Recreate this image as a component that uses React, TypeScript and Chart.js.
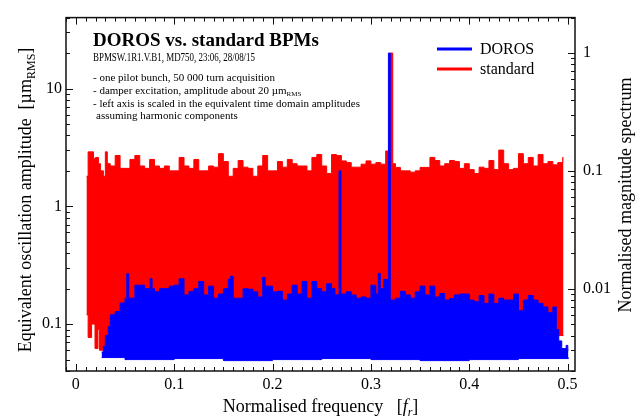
import React, { useEffect, useRef } from 'react';
import { Chart, registerables } from 'chart.js';

Chart.register(...registerables);

const SERIF = '"Liberation Serif", "Times New Roman", serif';
const BLUE = '#0000ff';
const RED = '#ff0000';

const xTickValues = [0, 0.1, 0.2, 0.3, 0.4, 0.5];
const leftTickValues = [0.1, 1, 10];
const rightTickValues = [0.01, 0.1, 1];

// [normalised frequency, amplitude in µm_RMS] — envelope of the DOROS spectrum (top)
const dorosUpper: [number, number][] = [
  [0.0262, 0.058], [0.028, 0.065], [0.03, 0.08], [0.033, 0.095], [0.035, 0.12], [0.04, 0.128],
  [0.045, 0.151], [0.05, 0.166], [0.0518, 0.268], [0.0538, 0.166], [0.06, 0.214], [0.065, 0.214],
  [0.07, 0.2], [0.0755, 0.243], [0.0775, 0.2], [0.08, 0.188], [0.085, 0.2], [0.09, 0.2],
  [0.095, 0.21], [0.1, 0.214], [0.105, 0.243], [0.11, 0.177], [0.115, 0.19], [0.12, 0.2],
  [0.125, 0.23], [0.13, 0.177], [0.135, 0.21], [0.14, 0.166], [0.145, 0.18], [0.15, 0.2],
  [0.155, 0.24], [0.1575, 0.255], [0.16, 0.166], [0.165, 0.166], [0.17, 0.2], [0.175, 0.198],
  [0.18, 0.188], [0.185, 0.17], [0.19, 0.25], [0.1925, 0.21], [0.195, 0.21], [0.2, 0.188],
  [0.205, 0.19], [0.21, 0.16], [0.215, 0.18], [0.22, 0.214], [0.225, 0.18], [0.23, 0.23],
  [0.235, 0.166], [0.24, 0.23], [0.245, 0.2], [0.25, 0.188], [0.255, 0.22], [0.26, 0.2],
  [0.2635, 0.177], [0.2676, 2.0], [0.2696, 0.18], [0.275, 0.188], [0.28, 0.177], [0.285, 0.166],
  [0.29, 0.17], [0.295, 0.166], [0.3, 0.214], [0.305, 0.18], [0.3075, 0.27], [0.3095, 0.2],
  [0.313, 0.24], [0.3178, 20], [0.3197, 0.16], [0.325, 0.166], [0.33, 0.19], [0.335, 0.177],
  [0.34, 0.166], [0.345, 0.188], [0.35, 0.21], [0.355, 0.177], [0.36, 0.21], [0.365, 0.17],
  [0.37, 0.182], [0.375, 0.16], [0.38, 0.165], [0.385, 0.177], [0.39, 0.18], [0.395, 0.18],
  [0.4, 0.16], [0.405, 0.155], [0.41, 0.175], [0.415, 0.15], [0.42, 0.18], [0.425, 0.15],
  [0.43, 0.166], [0.435, 0.16], [0.44, 0.16], [0.445, 0.18], [0.45, 0.13], [0.455, 0.16],
  [0.46, 0.175], [0.465, 0.16], [0.47, 0.15], [0.475, 0.14], [0.48, 0.125], [0.485, 0.14],
  [0.4885, 0.09], [0.491, 0.072], [0.494, 0.062], [0.4985, 0.066], [0.5002, 0.06], [0.5008, 0.06],
];

// noise floor of the DOROS spectrum (bottom of the band)
const dorosLower: [number, number][] = [
  [0.0262, 0.052], [0.05, 0.05], [0.1, 0.051], [0.15, 0.049], [0.2, 0.05], [0.25, 0.051],
  [0.3, 0.05], [0.35, 0.049], [0.4, 0.05], [0.45, 0.051], [0.5008, 0.052],
];

// envelope of the standard BPM spectrum (top)
const standardUpper: [number, number][] = [
  [0.0108, 1.8], [0.0125, 2.9], [0.015, 2.9], [0.018, 2.55], [0.02, 2.6], [0.023, 2.3],
  [0.025, 2.0], [0.028, 1.8], [0.03, 2.9], [0.032, 2.3], [0.035, 2.2], [0.04, 2.7],
  [0.045, 2.1], [0.05, 2.1], [0.055, 2.5], [0.06, 2.7], [0.065, 2.2], [0.07, 2.1],
  [0.075, 2.5], [0.08, 2.2], [0.085, 2.1], [0.09, 2.2], [0.095, 2.0], [0.1, 2.0],
  [0.105, 2.6], [0.11, 2.2], [0.115, 2.1], [0.12, 2.5], [0.125, 2.0], [0.13, 2.0],
  [0.135, 2.2], [0.14, 2.15], [0.145, 2.8], [0.15, 2.4], [0.155, 1.8], [0.16, 2.1],
  [0.165, 2.45], [0.17, 2.15], [0.175, 2.1], [0.18, 1.8], [0.185, 2.2], [0.19, 2.7],
  [0.195, 2.0], [0.2, 2.0], [0.205, 2.4], [0.21, 2.15], [0.215, 2.5], [0.22, 2.3],
  [0.225, 2.2], [0.23, 2.2], [0.235, 2.0], [0.24, 2.6], [0.245, 2.75], [0.25, 2.2],
  [0.255, 1.9], [0.26, 2.75], [0.265, 2.7], [0.27, 2.43], [0.275, 2.35], [0.28, 2.15],
  [0.285, 2.15], [0.29, 2.28], [0.295, 2.43], [0.3, 2.28], [0.305, 2.35], [0.31, 2.28],
  [0.315, 2.95], [0.3197, 20], [0.3222, 2.3], [0.325, 2.14], [0.33, 2.0], [0.335, 2.0],
  [0.34, 1.95], [0.345, 2.0], [0.35, 2.14], [0.355, 2.14], [0.36, 2.6], [0.365, 2.45],
  [0.37, 2.2], [0.375, 2.3], [0.38, 2.45], [0.385, 2.4], [0.39, 2.1], [0.395, 2.3],
  [0.4, 2.05], [0.405, 1.9], [0.41, 2.15], [0.415, 2.1], [0.42, 2.45], [0.425, 2.05],
  [0.43, 3.0], [0.435, 2.3], [0.44, 2.05], [0.445, 2.1], [0.45, 2.8], [0.455, 2.3],
  [0.46, 2.6], [0.465, 2.2], [0.47, 2.75], [0.475, 2.3], [0.48, 2.4], [0.485, 2.25],
  [0.49, 2.35], [0.495, 2.6], [0.4958, 2.6],
];

// bottom of the standard BPM band
const standardLower: [number, number][] = [
  [0.0108, 0.12], [0.0125, 0.077], [0.016, 0.1], [0.0195, 0.062], [0.0225, 0.09], [0.024, 0.06],
  [0.028, 0.065], [0.033, 0.075], [0.036, 0.1], [0.04, 0.11], [0.47, 0.11], [0.48, 0.12],
  [0.485, 0.1], [0.489, 0.08], [0.4958, 0.08],
];

type Part = { t: string; size: number; dy?: number; bold?: boolean; italic?: boolean };

const fontOf = (p: Part) =>
  `${p.italic ? 'italic ' : ''}${p.bold ? 'bold ' : ''}${p.size}px ${SERIF}`;

function richWidth(ctx: CanvasRenderingContext2D, parts: Part[]) {
  let w = 0;
  for (const p of parts) {
    ctx.font = fontOf(p);
    w += ctx.measureText(p.t).width;
  }
  return w;
}

function drawRich(ctx: CanvasRenderingContext2D, parts: Part[], x: number, y: number) {
  let cx = x;
  for (const p of parts) {
    ctx.font = fontOf(p);
    ctx.fillText(p.t, cx, y + (p.dy || 0));
    cx += ctx.measureText(p.t).width;
  }
}

// draw text squeezed horizontally to a given width
function drawFitted(ctx: CanvasRenderingContext2D, parts: Part[], x: number, y: number, width: number) {
  const w = richWidth(ctx, parts);
  ctx.save();
  ctx.translate(x, y);
  ctx.scale(width / w, 1);
  drawRich(ctx, parts, 0, 0);
  ctx.restore();
}

const decorations = {
  id: 'decorations',
  afterDraw(chart: any) {
    const { ctx, chartArea: a, scales } = chart;
    ctx.save();
    ctx.strokeStyle = '#111';
    ctx.fillStyle = '#111';

    // tick marks (inward) on all four sides
    ctx.lineWidth = 1;
    ctx.beginPath();
    const xs = scales.x;
    for (let i = -1; i <= 51; i++) {
      const px = Math.round(xs.getPixelForValue(i / 100)) + 0.5;
      if (px < a.left || px > a.right) continue;
      const len = i % 10 === 0 ? 7 : 4;
      ctx.moveTo(px, a.bottom);
      ctx.lineTo(px, a.bottom - len);
      ctx.moveTo(px, a.top);
      ctx.lineTo(px, a.top + len);
    }
    const logTicks = (scale: any, side: 'l' | 'r', lo: number, hi: number) => {
      for (let n = lo; n <= hi; n++) {
        for (let k = 1; k <= 9; k++) {
          const v = k * Math.pow(10, n);
          if (v < scale.min * 0.999 || v > scale.max * 1.001) continue;
          const py = Math.round(scale.getPixelForValue(v)) + 0.5;
          const len = k === 1 ? 7 : 4;
          if (side === 'l') {
            ctx.moveTo(a.left, py);
            ctx.lineTo(a.left + len, py);
          } else {
            ctx.moveTo(a.right, py);
            ctx.lineTo(a.right - len, py);
          }
        }
      }
    };
    logTicks(scales.y, 'l', -2, 1);
    logTicks(scales.y2, 'r', -3, 0);
    ctx.stroke();

    // frame
    ctx.lineWidth = 1.5;
    ctx.strokeRect(a.left, a.top, a.right - a.left, a.bottom - a.top);

    ctx.textAlign = 'left';
    ctx.textBaseline = 'alphabetic';
    ctx.fillStyle = '#000';

    // bottom axis title
    const xt: Part[] = [
      { t: 'Normalised frequency   [', size: 18 },
      { t: 'f', size: 18, italic: true },
      { t: 'r', size: 12, italic: true, dy: 4 },
      { t: ']', size: 18 },
    ];
    drawRich(ctx, xt, (a.left + a.right) / 2 - richWidth(ctx, xt) / 2, 412);

    // left axis title
    const yt: Part[] = [
      { t: 'Equivalent oscillation amplitude  [µm', size: 18 },
      { t: 'RMS', size: 12, dy: 4 },
      { t: ']', size: 18 },
    ];
    ctx.save();
    ctx.translate(31, 200);
    ctx.rotate(-Math.PI / 2);
    drawRich(ctx, yt, -richWidth(ctx, yt) / 2, 0);
    ctx.restore();

    // right axis title
    const rt: Part[] = [{ t: 'Normalised magnitude spectrum', size: 18 }];
    ctx.save();
    ctx.translate(631, 195);
    ctx.rotate(-Math.PI / 2);
    drawRich(ctx, rt, -richWidth(ctx, rt) / 2, 0);
    ctx.restore();

    // annotation block
    drawRich(ctx, [{ t: 'DOROS vs. standard BPMs', size: 19, bold: true }], 93, 46);
    drawFitted(ctx, [{ t: 'BPMSW.1R1.V.B1, MD750, 23:06, 28/08/15', size: 11.5 }], 93, 61, 162);
    drawRich(ctx, [{ t: '- one pilot bunch, 50 000 turn acquisition', size: 11 }], 93, 81);
    drawRich(
      ctx,
      [
        { t: '- damper excitation, amplitude about 20 µm', size: 11 },
        { t: 'RMS', size: 7, dy: 2 },
      ],
      93,
      94
    );
    drawRich(ctx, [{ t: '- left axis is scaled in the equivalent time domain amplitudes', size: 11 }], 93, 106.5);
    drawRich(ctx, [{ t: 'assuming harmonic components', size: 11 }], 96, 119);

    // legend
    const items = [
      { label: chart.data.datasets[0].label, color: chart.data.datasets[0].borderColor, y: 49 },
      { label: chart.data.datasets[2].label, color: chart.data.datasets[2].borderColor, y: 69 },
    ];
    for (const it of items) {
      ctx.strokeStyle = it.color;
      ctx.lineWidth = 3;
      ctx.beginPath();
      ctx.moveTo(437, it.y);
      ctx.lineTo(472, it.y);
      ctx.stroke();
      ctx.fillStyle = '#000';
      ctx.font = `16px ${SERIF}`;
      ctx.textBaseline = 'middle';
      ctx.fillText(it.label, 480, it.y + 1);
    }
    ctx.restore();
  },
};

const toXY = (arr: [number, number][]) => arr.map(([x, y]) => ({ x, y }));

export default function App() {
  const ref = useRef<HTMLCanvasElement>(null);

  useEffect(() => {
    const common = { pointRadius: 0, borderWidth: 1, stepped: true, yAxisID: 'y' };
    const chart = new Chart(ref.current!, {
      type: 'line',
      data: {
        datasets: [
          { ...common, label: 'DOROS', data: toXY(dorosUpper), borderColor: BLUE, backgroundColor: BLUE, fill: 1 },
          { ...common, label: 'DOROS floor', data: toXY(dorosLower), borderColor: BLUE, backgroundColor: BLUE, fill: false },
          { ...common, label: 'standard', data: toXY(standardUpper), borderColor: RED, backgroundColor: RED, fill: 3 },
          { ...common, label: 'standard floor', data: toXY(standardLower), borderColor: RED, backgroundColor: RED, fill: false },
        ] as any,
      },
      options: {
        responsive: false,
        animation: false,
        devicePixelRatio: 1,
        layout: { padding: { top: 11, left: 0, right: 0, bottom: 0 } },
        plugins: { legend: { display: false }, tooltip: { enabled: false } },
        scales: {
          x: {
            type: 'linear',
            min: -0.01,
            max: 0.5075,
            position: 'bottom',
            grid: { display: false, drawTicks: false },
            border: { display: false },
            ticks: {
              font: { family: SERIF, size: 16 },
              color: '#000',
              padding: 4,
              maxRotation: 0,
              autoSkip: false,
              callback: (v: any) => String(v),
            },
            afterBuildTicks: (s: any) => {
              s.ticks = xTickValues.map((v) => ({ value: v }));
            },
            afterFit: (s: any) => {
              s.height = 49;
            },
          },
          y: {
            type: 'logarithmic',
            min: 0.04,
            max: 40,
            position: 'left',
            grid: { display: false, drawTicks: false },
            border: { display: false },
            ticks: {
              font: { family: SERIF, size: 16 },
              color: '#000',
              padding: 4,
              autoSkip: false,
              callback: (v: any) => String(v),
            },
            afterBuildTicks: (s: any) => {
              s.ticks = leftTickValues.map((v) => ({ value: v }));
            },
            afterFit: (s: any) => {
              s.width = 66;
            },
          },
          y2: {
            type: 'logarithmic',
            min: 0.002,
            max: 2,
            position: 'right',
            grid: { display: false, drawTicks: false },
            border: { display: false },
            ticks: {
              font: { family: SERIF, size: 16 },
              color: '#000',
              padding: 8,
              autoSkip: false,
              callback: (v: any) => String(v),
            },
            afterBuildTicks: (s: any) => {
              s.ticks = rightTickValues.map((v) => ({ value: v }));
            },
            afterFit: (s: any) => {
              s.width = 67;
            },
          },
        },
      } as any,
      plugins: [decorations],
    });
    return () => chart.destroy();
  }, []);

  return (
    <div style={{ position: 'absolute', left: 0, top: 0, width: 642, height: 420, background: '#fff' }}>
      <canvas ref={ref} width={642} height={420} style={{ display: 'block' }} />
    </div>
  );
}
